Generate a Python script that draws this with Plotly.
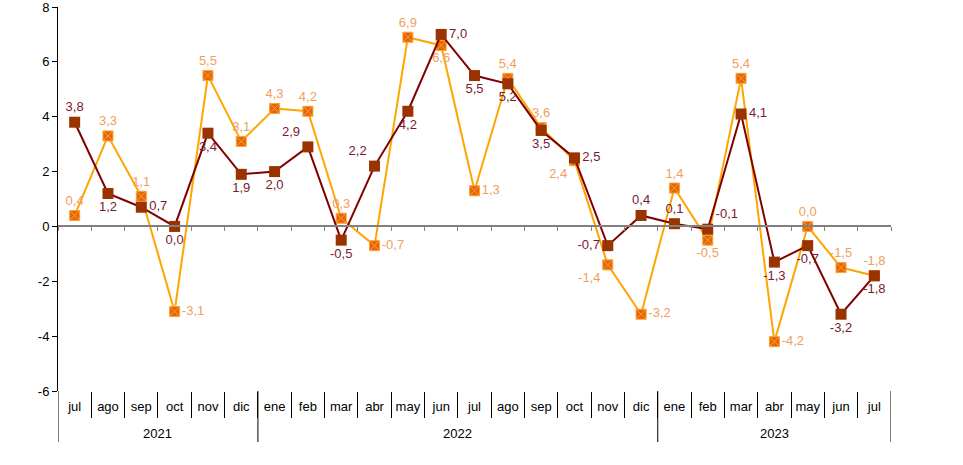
import plotly.graph_objects as go

# periods (year, month)
years = ["2021"] * 6 + ["2022"] * 12 + ["2023"] * 7
months = ["jul", "ago", "sep", "oct", "nov", "dic",
          "ene", "feb", "mar", "abr", "may", "jun", "jul", "ago", "sep", "oct", "nov", "dic",
          "ene", "feb", "mar", "abr", "may", "jun", "jul"]

# series values
serie_a = [3.8, 1.2, 0.7, 0.0, 3.4, 1.9,
           2.0, 2.9, -0.5, 2.2, 4.2, 7.0, 5.5, 5.2, 3.5, 2.5, -0.7, 0.4,
           0.1, -0.1, 4.1, -1.3, -0.7, -3.2, -1.8]
serie_b = [0.4, 3.3, 1.1, -3.1, 5.5, 3.1,
           4.3, 4.2, 0.3, -0.7, 6.9, 6.6, 1.3, 5.4, 3.6, 2.4, -1.4, -3.2,
           1.4, -0.5, 5.4, -4.2, 0.0, -1.5, -1.8]

y_ticks = [-6, -4, -2, 0, 2, 4, 6, 8]

# label placement (style)
pos_a = ["top center", "bottom center", "middle right", "bottom center", "bottom center", "bottom center",
         "bottom center", "top left", "bottom center", "top left", "bottom center", "middle right",
         "bottom center", "bottom center", "bottom center", "middle right", "middle left", "top center",
         "top center", "top right", "middle right", "bottom center", "bottom center", "bottom center",
         "bottom center"]
pos_b = ["top center", "top center", "top center", "middle right", "top center", "top center",
         "top center", "top center", "top center", "middle right", "top center", "bottom center",
         "middle right", "top center", "top center", "bottom left", "bottom left", "middle right",
         "top center", "bottom center", "top center", "middle right", "top center", "top center",
         "top center"]


def fmt(v):
    return f"{v:.1f}".replace(".", ",")


n = len(months)
idx = list(range(n))
y_min, y_max = -6, 8
plot_h = 384  # px height of plotting area

fig = go.Figure()

fig.add_trace(go.Scatter(
    x=idx, y=serie_b, mode="lines+markers+text",
    line=dict(color="#FFA500", width=2),
    marker=dict(symbol="square-x", size=10, color="#E4650A",
                line=dict(color="#FFA030", width=1)),
    text=[fmt(v) for v in serie_b], textposition=pos_b,
    textfont=dict(color="#F0A060", size=13, family="Liberation Sans"),
    cliponaxis=False, showlegend=False, hoverinfo="skip",
))

fig.add_trace(go.Scatter(
    x=idx, y=serie_a, mode="lines+markers+text",
    line=dict(color="#800000", width=2),
    marker=dict(symbol="square", size=11, color="#993300"),
    text=[fmt(v) for v in serie_a], textposition=pos_a,
    textfont=dict(color="#7A1A30", size=13, family="Liberation Sans"),
    cliponaxis=False, showlegend=False, hoverinfo="skip",
))

# helper traces so the extra axes get drawn
for ax in ("x2", "x3"):
    fig.add_trace(go.Scatter(
        x=[0, n - 1], y=[0, 0], xaxis=ax, mode="markers",
        marker=dict(opacity=0), showlegend=False, hoverinfo="skip",
    ))

# year groups: dividers and labels
bounds = [0] + [i for i in range(1, n) if years[i] != years[i - 1]] + [n]
div_len = 51 / plot_h
for b in bounds:
    fig.add_shape(type="line", xref="x", yref="paper",
                  x0=b - 0.5, x1=b - 0.5, y0=0, y1=-div_len,
                  line=dict(color="black", width=1))
for s, e in zip(bounds[:-1], bounds[1:]):
    fig.add_annotation(x=(s + e - 1) / 2, y=-42 / plot_h, xref="x", yref="paper",
                       text=years[s], showarrow=False, yanchor="middle",
                       font=dict(size=13, color="black"))

xrange = [-0.5, n - 0.5]
fig.update_layout(
    width=963, height=465,
    margin=dict(l=58, r=72, t=7, b=74, autoexpand=False),
    paper_bgcolor="white", plot_bgcolor="white",
    font=dict(family="Liberation Sans", size=13, color="black"),
    xaxis=dict(
        range=xrange, showline=False, showgrid=False, zeroline=False,
        tickvals=idx, ticktext=months, ticks="", tickangle=0,
        ticklabelstandoff=6, tickfont=dict(size=13), automargin=False,
    ),
    xaxis2=dict(
        overlaying="x", anchor="free", position=(0 - y_min) / (y_max - y_min), side="bottom",
        range=xrange, showgrid=False, zeroline=False,
        showline=True, linecolor="#808080", linewidth=1.5,
        ticks="outside", ticklen=4, tickcolor="#808080",
        tickvals=[i - 0.5 for i in range(n + 1)], showticklabels=False, automargin=False,
    ),
    xaxis3=dict(
        overlaying="x", anchor="y", side="bottom",
        range=xrange, showgrid=False, zeroline=False, showline=False,
        ticks="outside", ticklen=26, tickcolor="black", tickwidth=1,
        tickvals=[i - 0.5 for i in range(1, n)], showticklabels=False, automargin=False,
    ),
    yaxis=dict(
        range=[y_min, y_max + 0.001], showgrid=False, zeroline=False,
        showline=True, linecolor="black", linewidth=1,
        ticks="outside", ticklen=5, tickcolor="black",
        tickvals=y_ticks, ticktext=[str(v) for v in y_ticks],
        tickfont=dict(size=13), automargin=False, ticklabeloverflow="allow",
    ),
)

fig.write_html("out.html", config={"displayModeBar": False},
               post_script="document.body.style.margin='0';")
